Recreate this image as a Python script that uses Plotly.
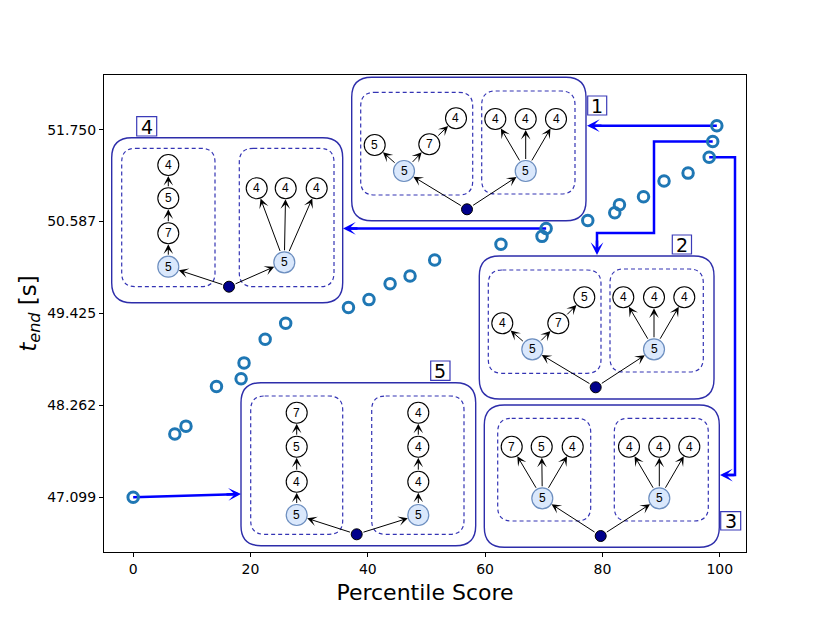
import plotly.graph_objects as go

# ---------------- data ----------------
percentile = [0.0, 7.1, 9.0, 14.2, 18.4, 18.9, 22.5, 26.0, 36.7, 40.2, 43.8, 47.2, 51.4,
              62.7, 69.7, 70.4, 77.5, 82.1, 82.9, 87.0, 90.5, 94.6, 98.2, 98.8, 99.5]
t_end = [47.1, 47.9, 48.0, 48.5, 48.6, 48.8, 49.1, 49.3, 49.5, 49.6, 49.8, 49.9, 50.1,
         50.3, 50.4, 50.5, 50.6, 50.7, 50.8, 50.9, 51.1, 51.2, 51.4, 51.6, 51.8]
x_ticks = [0, 20, 40, 60, 80, 100]
y_ticks = [47.099, 48.262, 49.425, 50.587, 51.750]
y_tick_text = ["47.099", "48.262", "49.425", "50.587", "51.750"]

X_RANGE = [-4.975, 104.475]
Y_RANGE = [46.408, 52.441]

# ---------------- layout geometry ----------------
# the page body adds an 8px offset, so the figure is sized to fit the window
OFF = 8
W, H = 815, 610
ML, MR, MT, MB = 96, 77, 67, 66
PW = W - ML - MR          # 642
PH = H - MT - MB          # 477
PL = ML + OFF             # plot-area left in window pixels (104)
PB = OFF + H - MB         # plot-area bottom in window pixels (552)


def px(x):
    return (x - PL) / PW


def py(y):
    return (PB - y) / PH


def data_to_pix(xv, yv):
    xp = PL + (xv - X_RANGE[0]) / (X_RANGE[1] - X_RANGE[0]) * PW
    yp = PB - (yv - Y_RANGE[0]) / (Y_RANGE[1] - Y_RANGE[0]) * PH
    return xp, yp


def P(x, y):
    return f"{px(x):.5f},{py(y):.5f}"


BOX_COL = "#2d2daa"
DASH_COL = "#3434b4"
BLUE_FILL = "#dae8fc"
BLUE_LINE = "#6c8ebf"
ROOT_FILL = "#00008b"
CONN_COL = "#0000ff"
NODE_R = 10.5
ROOT_R = 5.5

shapes = []
annots = []


def rounded(x0, y0, x1, y1, r, color, width, dash=None):
    path = (f"M {P(x0 + r, y0)} L {P(x1 - r, y0)} Q {P(x1, y0)} {P(x1, y0 + r)} "
            f"L {P(x1, y1 - r)} Q {P(x1, y1)} {P(x1 - r, y1)} "
            f"L {P(x0 + r, y1)} Q {P(x0, y1)} {P(x0, y1 - r)} "
            f"L {P(x0, y0 + r)} Q {P(x0, y0)} {P(x0 + r, y0)} Z")
    line = dict(color=color, width=width)
    if dash:
        line["dash"] = dash
    shapes.append(dict(type="path", xref="paper", yref="paper", path=path, line=line,
                       layer="above"))


def circle(cx, cy, r, fill, lc, lw=1):
    shapes.append(dict(type="circle", xref="paper", yref="paper",
                       x0=px(cx - r), x1=px(cx + r), y0=py(cy + r), y1=py(cy - r),
                       fillcolor=fill, line=dict(color=lc, width=lw), layer="above"))


def arrow(tx, ty, hx, hy, stand, start_stand, color="black", width=1, size=1.6):
    annots.append(dict(x=px(hx), y=py(hy), xref="paper", yref="paper",
                       ax=tx - hx, ay=ty - hy, text="", showarrow=True,
                       arrowhead=3, arrowsize=size, arrowwidth=width, arrowcolor=color,
                       standoff=stand, startstandoff=start_stand))


def label(x, y, text, size, family):
    annots.append(dict(x=px(x), y=py(y), xref="paper", yref="paper", text=text,
                       showarrow=False, xanchor="center", yanchor="middle",
                       font=dict(family=family, size=size, color="black")))


# ---------------- inset diagrams ----------------
insets = [
    dict(label="1", outer=(351.7, 77.3, 586, 220.7), tag=(587.7, 96, 606.7, 115),
         groups=[(360.7, 92.3, 472.7, 195), (481.7, 91, 575, 194)], root=(467, 209.3),
         nodes=[(404, 171, "5", 1), (374.7, 145, "5", 0), (429.3, 144.3, "7", 0), (456, 118.3, "4", 0),
                (525.7, 171, "5", 1), (495.3, 119, "4", 0), (525.7, 119, "4", 0), (556, 119, "4", 0)],
         edges=[("r", 0), ("r", 4), (0, 1), (0, 2), (2, 3), (4, 5), (4, 6), (4, 7)]),
    dict(label="2", outer=(479.3, 256, 714, 399), tag=(672.3, 235, 691.5, 254),
         groups=[(488.3, 270, 601, 373.3), (610, 269, 703.3, 372)], root=(595.7, 387.3),
         nodes=[(532.3, 349.3, "5", 1), (502.3, 323.3, "4", 0), (558.3, 323.3, "7", 0), (584.3, 297.3, "5", 0),
                (654, 349.3, "5", 1), (623.3, 297.3, "4", 0), (654, 297.3, "4", 0), (684.3, 297.3, "4", 0)],
         edges=[("r", 0), ("r", 4), (0, 1), (0, 2), (2, 3), (4, 5), (4, 6), (4, 7)]),
    dict(label="3", outer=(484.3, 405, 719.3, 547.3), tag=(720.7, 511.7, 740.7, 530),
         groups=[(497.7, 418.3, 590.7, 521), (614.3, 418.3, 708.3, 521)], root=(600.7, 536),
         nodes=[(542.3, 498.3, "5", 1), (511.7, 446.7, "7", 0), (541.7, 446.7, "5", 0), (572.7, 446.7, "4", 0),
                (659.3, 498.3, "5", 1), (629, 446.7, "4", 0), (659.3, 446.7, "4", 0), (689.3, 446.7, "4", 0)],
         edges=[("r", 0), ("r", 4), (0, 1), (0, 2), (0, 3), (4, 5), (4, 6), (4, 7)]),
    dict(label="4", outer=(111.7, 137.7, 342.7, 302.7), tag=(136.7, 116.7, 156.7, 136),
         groups=[(121.7, 148.3, 215, 286.7), (239.3, 148.3, 334, 286.7)], root=(229, 286.7),
         nodes=[(168.3, 266.7, "5", 1), (168.3, 233.3, "7", 0), (168.3, 198.3, "5", 0), (168.3, 165, "4", 0),
                (284.3, 262.3, "5", 1), (256.7, 188.3, "4", 0), (285.7, 188.3, "4", 0), (316.7, 188.3, "4", 0)],
         edges=[("r", 0), ("r", 4), (0, 1), (1, 2), (2, 3), (4, 5), (4, 6), (4, 7)]),
    dict(label="5", outer=(241, 382.7, 475.7, 545.7), tag=(430.7, 361, 450, 380.3),
         groups=[(250.7, 396, 342.7, 534.3), (371.7, 396, 464, 534.3)], root=(356.7, 534.3),
         nodes=[(296.7, 515, "5", 1), (296.7, 481.7, "4", 0), (296.7, 446.7, "5", 0), (296.7, 412.7, "7", 0),
                (418.3, 515, "5", 1), (418.3, 481.7, "4", 0), (418.3, 446.7, "4", 0), (418.3, 412.7, "4", 0)],
         edges=[("r", 0), ("r", 4), (0, 1), (1, 2), (2, 3), (4, 5), (5, 6), (6, 7)]),
]

for ins in insets:
    x0, y0, x1, y1 = ins["outer"]
    rounded(x0, y0, x1, y1, 20, BOX_COL, 1.4)
    for g in ins["groups"]:
        rounded(*g, 14, DASH_COL, 1.2, dash="4px,3px")
    tx0, ty0, tx1, ty1 = ins["tag"]
    shapes.append(dict(type="rect", xref="paper", yref="paper", x0=px(tx0), x1=px(tx1),
                       y0=py(ty1), y1=py(ty0), line=dict(color="#3b3bb8", width=1.2),
                       fillcolor="white", layer="above"))
    label((tx0 + tx1) / 2, (ty0 + ty1) / 2 + 0.5, ins["label"], 19, "DejaVu Sans")
    rx, ry = ins["root"]
    for (a, b) in ins["edges"]:
        if a == "r":
            sx, sy, ss = rx, ry, ROOT_R
        else:
            sx, sy, ss = ins["nodes"][a][0], ins["nodes"][a][1], NODE_R
        hx, hy = ins["nodes"][b][0], ins["nodes"][b][1]
        arrow(sx, sy, hx, hy, NODE_R + 0.5, ss)
    for (cx, cy, lab, blue) in ins["nodes"]:
        if blue:
            circle(cx, cy, NODE_R, BLUE_FILL, BLUE_LINE, 1.2)
        else:
            circle(cx, cy, NODE_R, "white", "black", 1.1)
        label(cx, cy, lab, 12, "Liberation Sans")
    circle(rx, ry, ROOT_R, ROOT_FILL, "black", 1)

# ---------------- blue connectors (start at data points) ----------------
connectors = [
    (24, [(587, None)]),
    (23, [(654, None), (654, 233), (597, 233), (597, 255)]),
    (22, [(735, None), (735, 475), (720, 475)]),
    (15, [(343, None)]),
    (0, [(241, 494)]),
]
for idx, way in connectors:
    sx, sy = data_to_pix(percentile[idx], t_end[idx])
    pts = [(sx, sy)]
    for (wx, wy) in way:
        pts.append((wx, sy if wy is None else wy))
    (ex, ey), (qx, qy) = pts[-1], pts[-2]
    dxv, dyv = ex - qx, ey - qy
    ln = (dxv ** 2 + dyv ** 2) ** 0.5
    ux, uy = dxv / ln, dyv / ln
    trimmed = pts[:-1] + [(ex - ux * 6, ey - uy * 6)]
    path = "M " + " L ".join(P(a, b) for a, b in trimmed)
    shapes.append(dict(type="path", xref="paper", yref="paper", path=path,
                       line=dict(color=CONN_COL, width=2.5), layer="below"))
    annots.append(dict(x=px(ex), y=py(ey), xref="paper", yref="paper",
                       ax=-ux * 16, ay=-uy * 16, text="", showarrow=True,
                       arrowhead=3, arrowsize=0.85, arrowwidth=2.5, arrowcolor=CONN_COL))

# ---------------- figure ----------------
fig = go.Figure()
fig.add_trace(go.Scatter(x=percentile, y=t_end, mode="markers",
                         marker=dict(symbol="circle-open", size=10.5, color="#1f77b4",
                                     line=dict(width=3, color="#1f77b4")),
                         showlegend=False, hoverinfo="x+y"))

axis_common = dict(showline=True, linecolor="black", linewidth=1, mirror=True,
                   ticks="outside", ticklen=4, tickcolor="black", showgrid=False,
                   zeroline=False, tickfont=dict(family="DejaVu Sans", size=14, color="black"))

fig.update_layout(
    width=W, height=H,
    margin=dict(l=ML, r=MR, t=MT, b=MB, autoexpand=False),
    paper_bgcolor="white", plot_bgcolor="white",
    xaxis=dict(range=X_RANGE, tickvals=x_ticks, **axis_common,
               title=dict(text="Percentile Score", standoff=8,
                          font=dict(family="DejaVu Sans", size=22, color="black"))),
    yaxis=dict(range=Y_RANGE, tickvals=y_ticks, ticktext=y_tick_text, **axis_common,
               title=dict(text="<i>t</i><sub><i>end</i></sub> [s]", standoff=4,
                          font=dict(family="DejaVu Sans", size=23, color="black"))),
    shapes=shapes,
    annotations=annots,
)

fig.write_html("out.html")
